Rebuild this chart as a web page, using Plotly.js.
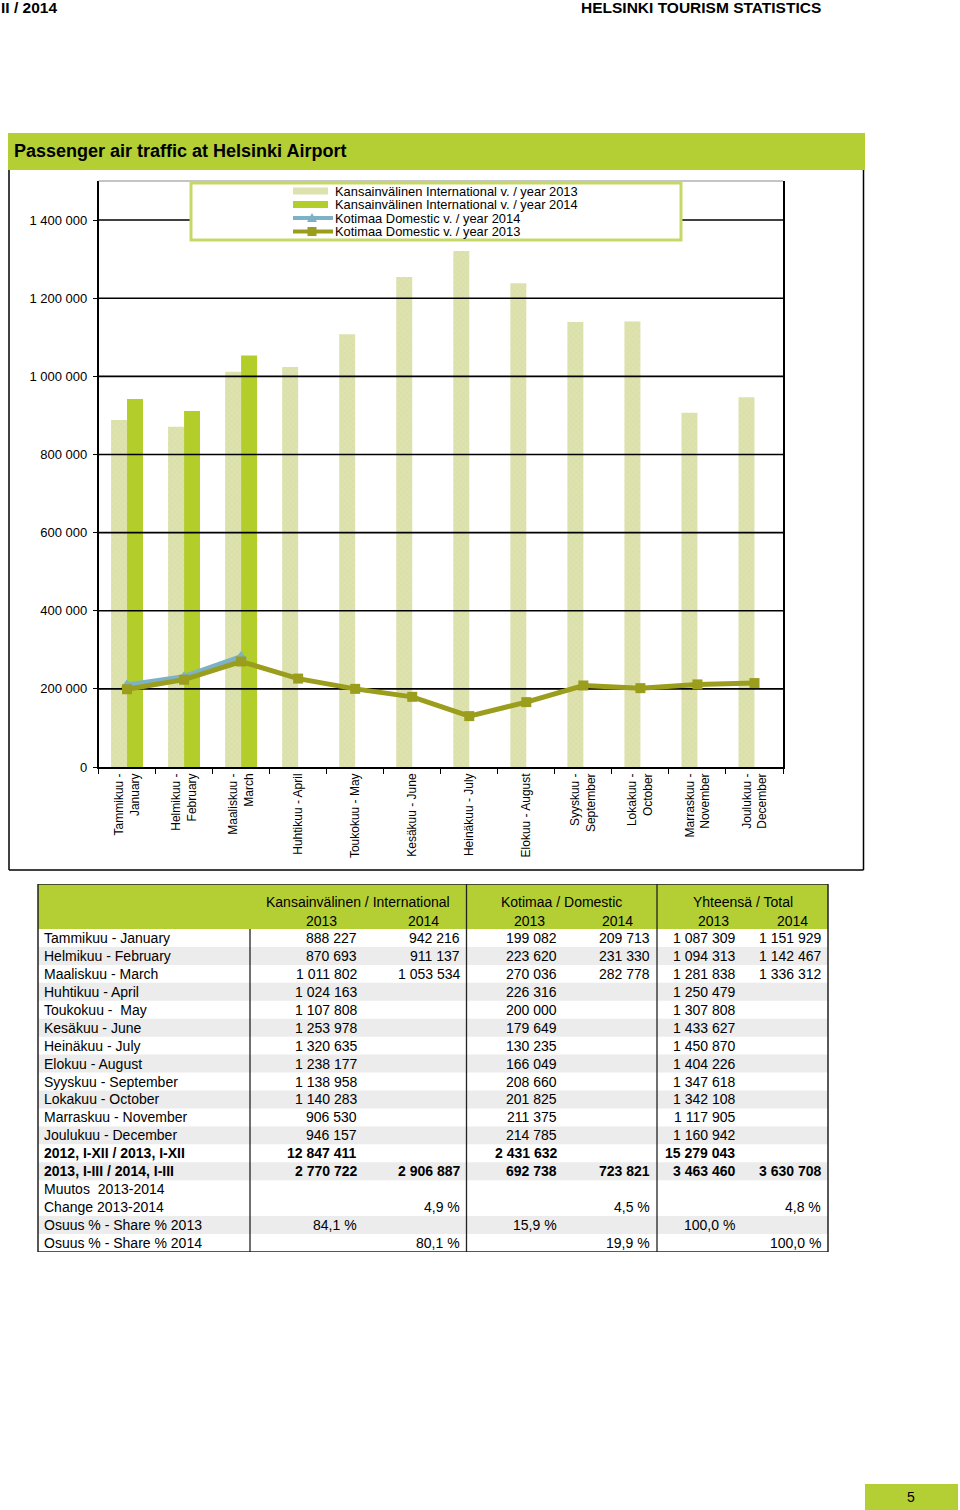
<!DOCTYPE html>
<html>
<head>
<meta charset="utf-8">
<script src="https://cdn.plot.ly/plotly-3.0.1.min.js"></script>
<style>
html,body{margin:0;padding:0;background:#fff;}
#chart{width:960px;height:1510px;}
</style>
</head>
<body>
<div id="chart"></div>
<script>
// ---------------- DATA ----------------
const monthTicks = ["Tammikuu -<br>January","Helmikuu -<br>February","Maaliskuu -<br>March","Huhtikuu - April","Toukokuu - May","Kesäkuu - June","Heinäkuu - July","Elokuu - August","Syyskuu -<br>September","Lokakuu -<br>October","Marraskuu -<br>November","Joulukuu -<br>December"];
const monthRows = ["Tammikuu - January","Helmikuu - February","Maaliskuu - March","Huhtikuu - April","Toukokuu -\u00a0 May","Kesäkuu - June","Heinäkuu - July","Elokuu - August","Syyskuu - September","Lokakuu - October","Marraskuu - November","Joulukuu - December"];
const summaryRows = ["<b>2012, I-XII / 2013, I-XII</b>","<b>2013, I-III / 2014, I-III</b>","Muutos  2013-2014","Change 2013-2014","Osuus % - Share % 2013","Osuus % - Share % 2014"];

const intl2013 = [888227,870693,1011802,1024163,1107808,1253978,1320635,1238177,1138958,1140283,906530,946157];
const intl2014 = [942216,911137,1053534];
const dom2013  = [199082,223620,270036,226316,200000,179649,130235,166049,208660,201825,211375,214785];
const dom2014  = [209713,231330,282778];
const total2013 = [1087309,1094313,1281838,1250479,1307808,1433627,1450870,1404226,1347618,1342108,1117905,1160942];
const total2014 = [1151929,1142467,1336312];

// summary values: [international, domestic, total]
const yearTotal2013 = [12847411,2431632,15279043];
const q1_2013 = [2770722,692738,3463460];
const q1_2014 = [2906887,723821,3630708];
const changePct = [4.9,4.5,4.8];
const share2013 = [84.1,15.9,100.0];
const share2014 = [80.1,19.9,100.0];

const seriesNames = ["Kansainvälinen International v. / year 2013","Kansainvälinen International v. / year 2014","Kotimaa Domestic v. / year 2014","Kotimaa Domestic v. / year 2013"];
const groupTitles = ["Kansainvälinen / International","Kotimaa / Domestic","Yhteensä / Total"];
const yearLabels = ["2013","2014","2013","2014","2013","2014"];
const yTicks = [0,200000,400000,600000,800000,1000000,1200000,1400000];

// ---------------- HELPERS ----------------
const W = 960, H = 1510;
const px = x => x / W;
const py = y => 1 - y / H;
const fmtInt = n => String(n).replace(/\B(?=(\d{3})+(?!\d))/g, ' ');
const fmtPct = p => p.toFixed(1).replace('.', ',') + ' %';
const FONT = 'Liberation Sans, Arial, sans-serif';
const GREEN = '#b4cf33';
const C13 = '#dee2ae', C14 = '#b3ce2b', CD13 = '#9b9d1c', CD14 = '#7db1c5';

const idx = monthTicks.map((_, i) => i);
const yTickText = yTicks.map(fmtInt);

// ---------------- TRACES ----------------
const traces = [];
traces.push({type:'bar', name:seriesNames[0], x:monthTicks, y:intl2013, xaxis:'x', yaxis:'y',
  marker:{color:C13, line:{width:0}, pattern:{shape:'x', bgcolor:C13, fgcolor:'#d2d89e', size:4, solidity:0.15, fillmode:'replace'}},
  showlegend:false, hoverinfo:'skip'});
traces.push({type:'bar', name:seriesNames[1], x:monthTicks.slice(0,intl2014.length), y:intl2014, xaxis:'x', yaxis:'y',
  marker:{color:C14, line:{width:0}}, showlegend:false, hoverinfo:'skip'});
// gridlines drawn between bars and lines
yTicks.filter(v => v > 0).forEach(v => {
  traces.push({type:'scatter', mode:'lines', x:[-0.5, 11.5], y:[v, v], xaxis:'x2', yaxis:'y',
    line:{color:'#000', width:1.6}, showlegend:false, hoverinfo:'skip'});
});
traces.push({type:'scatter', mode:'lines+markers', name:seriesNames[2], x:idx.slice(0,dom2014.length), y:dom2014, xaxis:'x2', yaxis:'y',
  line:{color:CD14, width:5}, marker:{symbol:'triangle-up', size:11, color:CD14}, showlegend:false, hoverinfo:'skip'});
traces.push({type:'scatter', mode:'lines+markers', name:seriesNames[3], x:idx, y:dom2013, xaxis:'x2', yaxis:'y',
  line:{color:CD13, width:5}, marker:{symbol:'square', size:10, color:CD13}, showlegend:false, hoverinfo:'skip'});
// anchor trace for table axes
traces.push({type:'scatter', mode:'markers', x:[0], y:[0], xaxis:'x3', yaxis:'y3', marker:{opacity:0}, showlegend:false, hoverinfo:'skip'});

// ---------------- SHAPES & ANNOTATIONS ----------------
const shapes = [];
const ann = [];

// page header
ann.push({xref:'paper', yref:'paper', x:px(0), y:py(-2), xanchor:'left', yanchor:'top', showarrow:false, borderpad:0,
  text:'<b>II / 2014</b>', font:{family:FONT, size:15.5, color:'#000'}});
ann.push({xref:'paper', yref:'paper', x:px(580), y:py(-2), xanchor:'left', yanchor:'top', showarrow:false, borderpad:0,
  text:'<b>HELSINKI TOURISM STATISTICS</b>', font:{family:FONT, size:15.5, color:'#000'}});

// title banner
shapes.push({type:'rect', xref:'paper', yref:'paper', x0:px(8), x1:px(865), y0:py(133), y1:py(170), fillcolor:GREEN, line:{width:0}, layer:'below'});
ann.push({xref:'paper', yref:'paper', x:px(12), y:py(151), xanchor:'left', yanchor:'middle', showarrow:false,
  text:'<b>Passenger air traffic at Helsinki Airport</b>', font:{family:FONT, size:18, color:'#000'}});

// chart frame
shapes.push({type:'line', xref:'paper', yref:'paper', x0:px(9), x1:px(9), y0:py(170), y1:py(870), line:{color:'#000', width:1.5}});
shapes.push({type:'line', xref:'paper', yref:'paper', x0:px(863.5), x1:px(863.5), y0:py(170), y1:py(870), line:{color:'#000', width:1.5}});
shapes.push({type:'line', xref:'paper', yref:'paper', x0:px(9), x1:px(863.5), y0:py(870), y1:py(870), line:{color:'#000', width:1.5}});
// plot area top border
shapes.push({type:'line', xref:'x domain', yref:'y domain', x0:0, x1:1, y0:1, y1:1, line:{color:'#8a8a8a', width:1}});

// manual legend
const legL = 191, legR = 681, legT = 183, legB = 240;
shapes.push({type:'rect', xref:'paper', yref:'paper', x0:px(legL), x1:px(legR), y0:py(legT), y1:py(legB),
  fillcolor:'#fff', line:{color:'#c6d968', width:3}, layer:'above'});
const legRows = [191, 204.5, 218, 231.5];
const legSwatchL = 293, legSwatchR = 330, legMid = 312, legText = 334;
seriesNames.forEach((nm, i) => {
  const cy = legRows[i];
  if (i < 2) {
    shapes.push({type:'rect', xref:'paper', yref:'paper', x0:px(legSwatchL), x1:px(legSwatchR-2), y0:py(cy-3.5), y1:py(cy+3.5),
      fillcolor: i === 0 ? C13 : C14, line:{width:0}, layer:'above'});
  } else {
    const col = i === 2 ? CD14 : CD13;
    shapes.push({type:'line', xref:'paper', yref:'paper', x0:px(legSwatchL), x1:px(legSwatchR+3), y0:py(cy), y1:py(cy),
      line:{color:col, width:4}, layer:'above'});
    if (i === 2) {
      const pts = [[legMid-5, cy+4], [legMid+5, cy+4], [legMid, cy-5]];
      const p = 'M ' + pts.map(q => px(q[0]) + ' ' + py(q[1])).join(' L ') + ' Z';
      shapes.push({type:'path', xref:'paper', yref:'paper', path:p, fillcolor:col, line:{width:0}, layer:'above'});
    } else {
      shapes.push({type:'rect', xref:'paper', yref:'paper', x0:px(legMid-4.5), x1:px(legMid+4.5), y0:py(cy-4.5), y1:py(cy+4.5),
        fillcolor:col, line:{width:0}, layer:'above'});
    }
  }
  ann.push({xref:'paper', yref:'paper', x:px(legText), y:py(cy), xanchor:'left', yanchor:'middle', showarrow:false,
    text:nm, font:{family:FONT, size:12.9, color:'#000'}, borderpad:0});
});

// ---------------- TABLE ----------------
const tL = 38, tR = 828, tT = 884, tB = 1252;
const nRows = monthRows.length + summaryRows.length; // 18
const rowLabels = monthRows.concat(summaryRows);
const valRight = [358, 461, 558, 651, 736, 822];
const yearCenters = [321, 423, 529, 617, 713, 792];
const groupCenters = [358, 561.5, 742.5];
const headerUnits = (929 - tT) / ((tB - 929) / nRows);

// header band
shapes.push({type:'rect', xref:'paper', yref:'y3', x0:px(tL), x1:px(tR), y0:-headerUnits, y1:0, fillcolor:GREEN, line:{width:0}, layer:'below'});
// stripes
const greyRows = [1,3,5,7,9,11,13,16];
greyRows.forEach(r => shapes.push({type:'rect', xref:'paper', yref:'y3', x0:px(tL), x1:px(tR), y0:r, y1:r+1,
  fillcolor:'#ececec', line:{width:0}, layer:'below'}));
// borders
shapes.push({type:'rect', xref:'paper', yref:'y3', x0:px(tL), x1:px(tR), y0:-headerUnits, y1:nRows, line:{color:'#222', width:1.5}});
shapes.push({type:'line', xref:'paper', yref:'y3', x0:px(250), x1:px(250), y0:0, y1:nRows, line:{color:'#222', width:1.3}});
shapes.push({type:'line', xref:'paper', yref:'y3', x0:px(466.5), x1:px(466.5), y0:-headerUnits, y1:nRows, line:{color:'#222', width:1.3}});
shapes.push({type:'line', xref:'paper', yref:'y3', x0:px(657), x1:px(657), y0:-headerUnits, y1:nRows, line:{color:'#222', width:1.3}});

const tfont = {family:FONT, size:14, color:'#000'};
groupTitles.forEach((g, i) => ann.push({xref:'paper', yref:'y3', x:px(groupCenters[i]), y:-headerUnits*0.6, xanchor:'center', yanchor:'middle',
  showarrow:false, text:g, font:tfont}));
yearLabels.forEach((t, i) => ann.push({xref:'paper', yref:'y3', x:px(yearCenters[i]), y:-0.45, xanchor:'center', yanchor:'middle',
  showarrow:false, text:t, font:tfont}));
rowLabels.forEach((t, r) => ann.push({xref:'paper', yref:'y3', x:px(43), y:r+0.5, xanchor:'left', yanchor:'middle',
  showarrow:false, text:t, font:tfont, borderpad:0}));

// table cell values, by column
const cols = [
  intl2013.map(fmtInt), intl2014.map(fmtInt),
  dom2013.map(fmtInt), dom2014.map(fmtInt),
  total2013.map(fmtInt), total2014.map(fmtInt)
];
const cellTexts = cols.map(c => { const a = new Array(nRows).fill(''); c.forEach((v, r) => a[r] = v); return a; });
for (let g = 0; g < 3; g++) {
  const c13 = 2*g, c14 = 2*g + 1;
  cellTexts[c13][12] = '<b>' + fmtInt(yearTotal2013[g]) + '</b>';
  cellTexts[c13][13] = '<b>' + fmtInt(q1_2013[g]) + '</b>';
  cellTexts[c14][13] = '<b>' + fmtInt(q1_2014[g]) + '</b>';
  cellTexts[c14][15] = fmtPct(changePct[g]);
  cellTexts[c13][16] = fmtPct(share2013[g]);
  cellTexts[c14][17] = fmtPct(share2014[g]);
}
cellTexts.forEach((col, c) => col.forEach((t, r) => {
  if (t) ann.push({xref:'paper', yref:'y3', x:px(valRight[c]), y:r+0.5, xanchor:'right', yanchor:'middle',
    showarrow:false, text:t, font:tfont, borderpad:0});
}));

// page number box
shapes.push({type:'rect', xref:'paper', yref:'paper', x0:px(865), x1:px(958), y0:py(1484), y1:py(1510), fillcolor:GREEN, line:{width:0}, layer:'below'});
ann.push({xref:'paper', yref:'paper', x:px(911), y:py(1497), xanchor:'center', yanchor:'middle', showarrow:false,
  text:'5', font:{family:FONT, size:14, color:'#000'}});

// ---------------- LAYOUT ----------------
const tickFont = {family:FONT, size:13, color:'#000'};
const layout = {
  width:W, height:H,
  margin:{l:0, r:0, t:0, b:0, pad:0},
  paper_bgcolor:'#fff', plot_bgcolor:'rgba(0,0,0,0)',
  showlegend:false,
  barmode:'group', bargap:0.44, bargroupgap:0,
  font:{family:FONT, color:'#000'},
  xaxis:{domain:[px(98.5), px(783)], anchor:'y', type:'category', range:[-0.5, 11.5], tickangle:-90, tickson:'boundaries',
    ticks:'outside', ticklen:5, tickcolor:'#000', tickwidth:1, showline:true, linecolor:'#000', linewidth:1.6,
    showgrid:false, zeroline:false, tickfont:{family:FONT, size:12, color:'#000'}, automargin:false, fixedrange:true},
  xaxis2:{overlaying:'x', anchor:'y', range:[-0.5, 11.5], visible:false, fixedrange:true},
  yaxis:{domain:[py(767), py(181)], anchor:'x', range:[0, 1500000], tickvals:yTicks, ticktext:yTickText,
    ticks:'outside', ticklen:4, tickcolor:'#000', showline:true, mirror:true, linecolor:'#000', linewidth:1.6,
    showgrid:false, zeroline:false, tickfont:tickFont, ticklabelstandoff:3, automargin:false, fixedrange:true},
  yaxis2:{overlaying:'y', side:'right', anchor:'x', range:[0, 1500000], tickvals:yTicks, ticktext:yTickText,
    ticks:'outside', ticklen:4, tickcolor:'#000', showline:false, showgrid:false, zeroline:false, tickfont:tickFont, ticklabelstandoff:1, automargin:false, fixedrange:true},
  xaxis3:{domain:[0, 1], anchor:'y3', range:[0, 1], visible:false, fixedrange:true},
  yaxis3:{domain:[py(tB), py(tT)], anchor:'x3', range:[nRows, -headerUnits], visible:false, fixedrange:true},
  shapes:shapes,
  annotations:ann
};

Plotly.newPlot('chart', traces, layout, {staticPlot:true, displayModeBar:false});
</script>
</body>
</html>
